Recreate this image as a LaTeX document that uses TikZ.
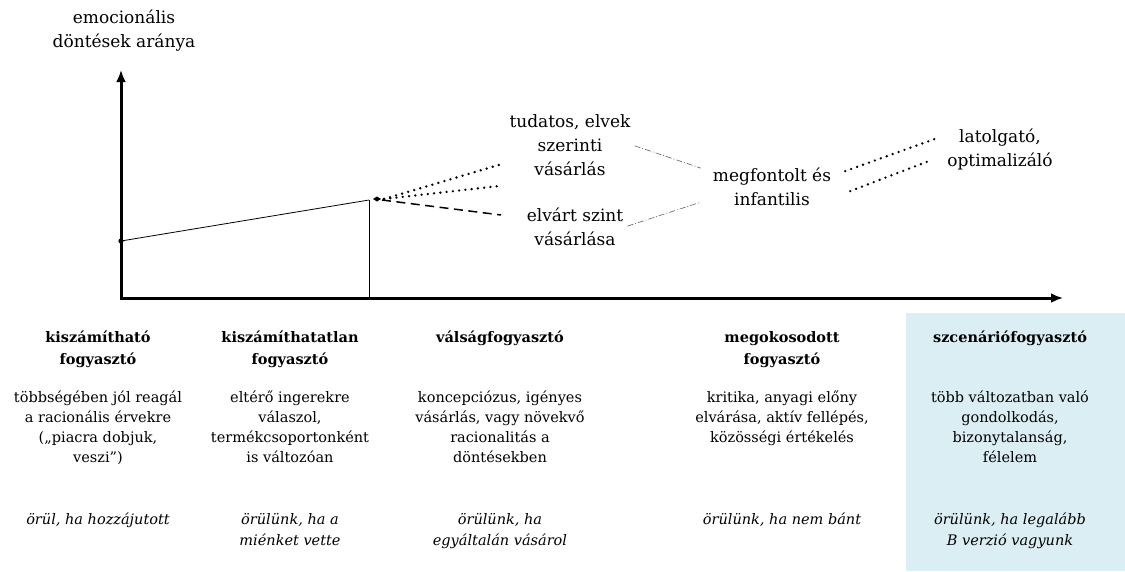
\documentclass[tikz,border=0pt]{standalone}
\usepackage{fontspec}
\setmainfont{DejaVu Serif}
\usetikzlibrary{arrows.meta}

\definecolor{bluebox}{RGB}{218,238,243}
\definecolor{greyline}{RGB}{95,95,95}

\tikzset{
  axis/.style={line width=3pt, {Latex[length=12pt,width=10pt]}-{Latex[length=12pt,width=10pt]}},
  thinline/.style={line width=0.8pt},
  dotline/.style={line width=2.6pt, line cap=round, dash pattern=on 0pt off 6.3pt},
  dashline/.style={line width=1.5pt, dash pattern=on 9pt off 5.5pt},
  dashdotline/.style={line width=0.6pt, greyline, dash pattern=on 6pt off 2pt on 1pt off 2pt},
  lbl/.style={font=\fontsize{17}{24}\selectfont, align=center, inner sep=0pt, anchor=north},
  head/.style={font=\fontsize{14.5}{22}\selectfont\bfseries, align=center, inner sep=0pt, anchor=north},
  body/.style={font=\fontsize{14.5}{20}\selectfont, align=center, inner sep=0pt, anchor=north},
  motto/.style={font=\fontsize{14.5}{21}\selectfont\itshape, align=center, inner sep=0pt, anchor=north}
}

\begin{document}
\begin{tikzpicture}[x=1pt,y=-1pt]
  \useasboundingbox (0,0) rectangle (1125,571);
  \fill[bluebox] (906,313) rectangle (1125,571);

  % axes
  \coordinate (ytop) at (121,70);
  \coordinate (origin) at (121,298);
  \coordinate (xend) at (1063,298);
  \draw[axis] (ytop) -- (origin) -- (xend);
  \node[lbl] (emo) at (124,10) {emocionális\\döntések aránya};

  % first segment
  \coordinate (start) at (121,241);
  \coordinate (split) at (369,200);
  \coordinate (fork) at (377,199);
  \fill (start) circle (2.6);
  \draw[thinline] (start) -- (split);
  \draw[thinline] (split) -- (split |- origin);
  \fill (fork) +(-4,0) -- +(0,-2.5) -- +(4,0) -- +(0,2.5) -- cycle;

  % branches
  \coordinate (branchA) at (502,164);
  \coordinate (branchB) at (499,186);
  \coordinate (branchC) at (501,215);
  \draw[dotline] ([xshift=7pt]fork) -- (branchA);
  \draw[dotline] ([xshift=7pt]fork) -- (branchB);
  \draw[dashline] ([xshift=5pt,yshift=-1pt]fork) -- (branchC);

  \node[lbl] (tudatos) at (570,114) {tudatos, elvek\\szerinti\\vásárlás};
  \node[lbl] (elvart) at (575,208) {elvárt szint\\vásárlása};
  \node[lbl] (megfontolt) at (772,168) {megfontolt és\\infantilis};
  \node[lbl] (latolgato) at (1000,129) {latolgató,\\optimalizáló};

  \draw[dashdotline] ([xshift=4pt,yshift=-1pt]tudatos.east) -- ([xshift=-12pt,yshift=19pt]megfontolt.west);
  \draw[dashdotline] ([xshift=4pt,yshift=1pt]elvart.east) -- ([xshift=-12pt,yshift=-15pt]megfontolt.west);
  \draw[dotline] ([xshift=14pt,yshift=16pt]megfontolt.east) -- ([xshift=-9pt,yshift=12pt]latolgato.west);
  \draw[dotline] ([xshift=19pt,yshift=-4pt]megfontolt.east) -- ([xshift=-15pt,yshift=-10pt]latolgato.west);

  % consumer types
  \node[head] (headA) at (98,331) {kiszámítható\\fogyasztó};
  \node[head] (headB) at (290,331) {kiszámíthatatlan\\fogyasztó};
  \node[head] (headC) at (500,331) {válságfogyasztó};
  \node[head] (headD) at (782,331) {megokosodott\\fogyasztó};
  \node[head] (headE) at (1010,331) {szcenáriófogyasztó};

  \node[body] (bodyA) at (98,391) {többségében jól reagál\\a racionális érvekre\\(„piacra dobjuk,\\veszi”)};
  \node[body] (bodyB) at (290,391) {eltérő ingerekre\\válaszol,\\termékcsoportonként\\is változóan};
  \node[body] (bodyC) at (500,391) {koncepciózus, igényes\\vásárlás, vagy növekvő\\racionalitás a\\döntésekben};
  \node[body] (bodyD) at (782,391) {kritika, anyagi előny\\elvárása, aktív fellépés,\\közösségi értékelés};
  \node[body] (bodyE) at (1010,391) {több változatban való\\gondolkodás,\\bizonytalanság,\\félelem};

  \node[motto] (mottoA) at (98,513) {örül, ha hozzájutott};
  \node[motto] (mottoB) at (290,513) {örülünk, ha a\\miénket vette};
  \node[motto] (mottoC) at (500,513) {örülünk, ha\\egyáltalán vásárol};
  \node[motto] (mottoD) at (782,513) {örülünk, ha nem bánt};
  \node[motto] (mottoE) at (1010,513) {örülünk, ha legalább\\B verzió vagyunk};
\end{tikzpicture}
\end{document}
